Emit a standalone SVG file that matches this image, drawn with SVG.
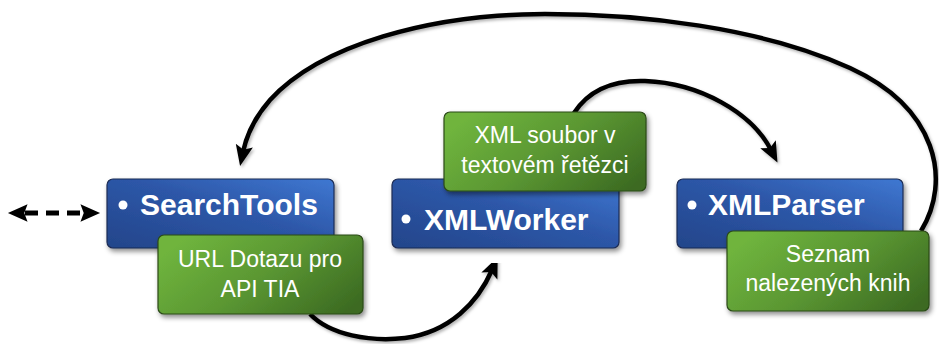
<svg xmlns="http://www.w3.org/2000/svg" width="939" height="344" viewBox="0 0 939 344">
  <defs>
    <linearGradient id="blueGrad" x1="0" y1="1" x2="1" y2="0">
      <stop offset="0" stop-color="#23458a"/>
      <stop offset="0.55" stop-color="#2d57a8"/>
      <stop offset="1" stop-color="#3f78d2"/>
    </linearGradient>
    <linearGradient id="greenGrad" x1="0" y1="0.3" x2="1" y2="0.8">
      <stop offset="0" stop-color="#6fb43d"/>
      <stop offset="0.5" stop-color="#5a9632"/>
      <stop offset="1" stop-color="#3c6b22"/>
    </linearGradient>
    <filter id="shadow" x="-10%" y="-10%" width="125%" height="135%">
      <feDropShadow dx="2" dy="3" stdDeviation="2.5" flood-color="#000" flood-opacity="0.45"/>
    </filter>
    <filter id="ashadow" x="-10%" y="-10%" width="125%" height="135%">
      <feDropShadow dx="1.5" dy="2" stdDeviation="1.5" flood-color="#000" flood-opacity="0.3"/>
    </filter>
    <marker id="head" markerUnits="userSpaceOnUse" markerWidth="24" markerHeight="24" viewBox="0 -10 22 20" refX="6" refY="0" orient="auto">
      <path d="M0,-8 L19,0 L0,8 L4,0 Z" fill="#000"/>
    </marker>
    <marker id="headStart" markerUnits="userSpaceOnUse" markerWidth="24" markerHeight="24" viewBox="0 -10 22 20" refX="6" refY="0" orient="auto-start-reverse">
      <path d="M0,-8 L18,0 L0,8 L3,0 Z" fill="#000"/>
    </marker>
  </defs>
  <style>
    .main { fill: url(#blueGrad); stroke: #1b2c55; stroke-width: 1.2; filter: url(#shadow); }
    .note { fill: url(#greenGrad); stroke: #2b4a19; stroke-width: 1.2; filter: url(#shadow); }
    .mainText { font-family: "Liberation Sans", Arial, sans-serif; font-weight: bold; font-size: 30px; fill: #fff; }
    .noteText { font-family: "Liberation Sans", Arial, sans-serif; font-size: 23px; fill: #fff; text-anchor: middle; }
    .conn { fill: none; stroke: #000; stroke-width: 4.5; stroke-linecap: butt; filter: url(#ashadow); }
    .dashed { fill: none; stroke: #000; stroke-width: 5; stroke-dasharray: 13 8; }
    .bullet { fill: #fff; }
  </style>

  <g id="connectors">
    <path class="conn" d="M921 231 C952 180, 937 108, 850 68 C760 27, 640 14, 545 14 C430 14, 320 45, 270 100 C256 116, 247 133, 243 152" marker-end="url(#head)"/>
    <path class="conn" d="M574 113 C590 88, 615 80, 645 81 C700 83, 752 113, 771 150" marker-end="url(#head)"/>
    <path class="conn" d="M310 314 C330 335, 370 342, 405 338 C450 332, 478 302, 492 270" marker-end="url(#head)"/>
    <path class="dashed" d="M21 213 L87 213" stroke-dashoffset="-4" marker-start="url(#headStart)" marker-end="url(#headStart)"/>
  </g>

  <g id="node-searchtools">
    <rect class="main" x="107" y="179" width="227" height="69" rx="6"/>
    <circle class="bullet" cx="123" cy="205" r="4.5"/>
    <text class="mainText" x="140" y="215">SearchTools</text>
  </g>
  <g id="node-searchtools-note">
    <rect class="note" x="158" y="235" width="205" height="79" rx="6"/>
    <text class="noteText" x="260" y="267">URL Dotazu pro</text>
    <text class="noteText" x="260" y="297">API TIA</text>
  </g>

  <g id="node-xmlworker">
    <rect class="main" x="392" y="179" width="227" height="69" rx="6"/>
    <circle class="bullet" cx="406" cy="219" r="4.5"/>
    <text class="mainText" x="424" y="230">XMLWorker</text>
  </g>
  <g id="node-xmlworker-note">
    <rect class="note" x="444" y="112" width="202" height="79" rx="6"/>
    <text class="noteText" x="545" y="143">XML soubor v</text>
    <text class="noteText" x="545" y="173">textovém řetězci</text>
  </g>

  <g id="node-xmlparser">
    <rect class="main" x="677" y="179" width="226" height="69" rx="6"/>
    <circle class="bullet" cx="692" cy="205" r="4.5"/>
    <text class="mainText" x="708" y="215">XMLParser</text>
  </g>
  <g id="node-xmlparser-note">
    <rect class="note" x="727" y="231" width="202" height="80" rx="6"/>
    <text class="noteText" x="828" y="262">Seznam</text>
    <text class="noteText" x="828" y="291">nalezených knih</text>
  </g>
</svg>
